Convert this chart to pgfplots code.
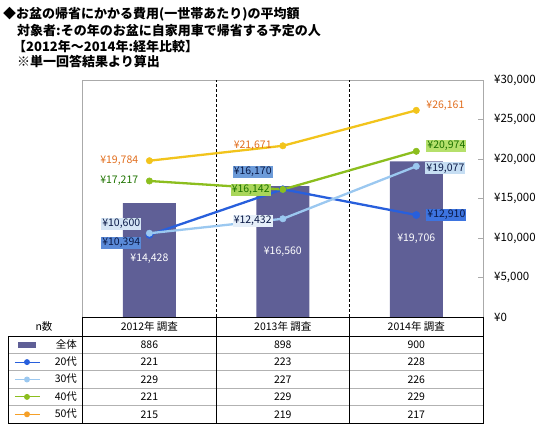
\documentclass[border=0pt]{standalone}
\usepackage{fontspec}
\setmainfont{Noto Sans CJK JP}
\usepackage{pgfplots}
\pgfplotsset{compat=1.18}

\definecolor{barc}{RGB}{95,95,150}
\definecolor{c20}{RGB}{40,95,220}
\definecolor{c30}{RGB}{155,200,240}
\definecolor{c40}{RGB}{140,190,30}
\definecolor{c50}{RGB}{242,196,28}
\definecolor{c50leg}{RGB}{245,160,40}
\definecolor{t50}{RGB}{225,110,30}
\definecolor{t40}{RGB}{30,115,0}
\definecolor{tblue}{RGB}{10,25,70}
\definecolor{framec}{RGB}{170,170,170}
\definecolor{bgA}{RGB}{213,229,245}
\definecolor{bgB}{RGB}{90,138,216}
\definecolor{bgC}{RGB}{108,155,217}
\definecolor{bgD}{RGB}{169,214,90}
\definecolor{bgE}{RGB}{230,239,249}
\definecolor{bgF}{RGB}{181,224,107}
\definecolor{bgG}{RGB}{198,222,243}
\definecolor{bgH}{RGB}{61,116,224}

\newcommand{\lab}{\fontsize{10.5}{12}\selectfont}
\newcommand{\tbl}{\fontsize{10.5}{12}\selectfont}
\newcommand{\legtxt}[1]{\makebox[34pt][r]{#1}}

\begin{document}
\begin{tikzpicture}
\path[use as bounding box] (0pt,0pt) rectangle (550pt,429pt);

% title
\begin{scope}[every node/.style={anchor=west, inner sep=0pt, font=\bfseries\fontsize{13}{15}\selectfont}]
\node at (3pt,415pt) {◆お盆の帰省にかかる費用(一世帯あたり)の平均額};
\node at (17pt,398pt) {対象者:その年のお盆に自家用車で帰省する予定の人};
\node at (13pt,382pt) {【2012年～2014年:経年比較】};
\node at (17pt,367pt) {※単一回答結果より算出};
\end{scope}

\begin{axis}[
  at={(82.7pt,112pt)}, anchor=south west,
  scale only axis, width=400.3pt, height=237pt,
  xmin=-0.5, xmax=2.5, ymin=0, ymax=30000,
  clip=false,
  axis line style={draw=framec},
  xtick=\empty,
  ytick={0,5000,...,30000},
  ytick pos=right, yticklabel pos=right,
  tick align=inside, major tick length=5pt,
  ytick style={draw=framec},
  scaled y ticks=false,
  yticklabel={¥\pgfmathprintnumber{\tick}},
  /pgf/number format/.cd, 1000 sep={,}, assume math mode=true,
  /pgfplots/.cd,
  yticklabel style={anchor=west, inner sep=0pt, xshift=11pt, font=\fontsize{11.5}{13}\selectfont},
  extra x ticks={0.5,1.5},
  extra x tick labels={},
  extra x tick style={grid=major, major tick length=0pt,
     major grid style={draw=black, line width=0.9pt, dash pattern=on 3pt off 2pt}},
  legend style={at={(-0.18661,-0.08017)}, anchor=north west, draw=none, fill=none,
     inner sep=0pt, outer sep=0pt, row sep=0pt, column sep=0pt,
     nodes={inner sep=0pt, outer sep=0pt, text height=12pt, text depth=5.4pt, font=\tbl}},
]
\addplot[ybar, bar width=53pt, fill=barc, draw=none,
  legend image code/.code={\path[draw=none,fill=none] (0pt,-4pt) rectangle (35pt,4pt);
     \fill[barc, draw=none] (10pt,-3pt) rectangle (28pt,3pt);}]
  coordinates {(0,14428) (1,16560) (2,19706)};
\addlegendentry{\legtxt{全体}}

\addplot[c20, line width=2.3pt, mark=*, mark size=3.6pt, mark options={fill=c20, draw=c20, line width=0.5pt},
  legend image code/.code={\path[draw=none,fill=none] (0pt,-4pt) rectangle (35pt,4pt);
     \draw[c20, line width=1pt, fill=none] (7pt,0pt) -- (32pt,0pt); \fill[c20, draw=none] (19pt,0pt) circle (3pt);}]
  coordinates {(0,10394) (1,16170) (2,12910)};
\addlegendentry{\legtxt{20代}}

\addplot[c30, line width=2.3pt, mark=*, mark size=3.2pt, mark options={fill=c30, draw=c30, line width=0.5pt},
  legend image code/.code={\path[draw=none,fill=none] (0pt,-4pt) rectangle (35pt,4pt);
     \draw[c30, line width=1pt, fill=none] (7pt,0pt) -- (32pt,0pt); \fill[c30, draw=none] (19pt,0pt) circle (3pt);}]
  coordinates {(0,10600) (1,12432) (2,19077)};
\addlegendentry{\legtxt{30代}}

\addplot[c40, line width=2.3pt, mark=*, mark size=3.2pt, mark options={fill=c40, draw=c40, line width=0.5pt},
  legend image code/.code={\path[draw=none,fill=none] (0pt,-4pt) rectangle (35pt,4pt);
     \draw[c40, line width=1pt, fill=none] (7pt,0pt) -- (32pt,0pt); \fill[c40, draw=none] (19pt,0pt) circle (3pt);}]
  coordinates {(0,17217) (1,16142) (2,20974)};
\addlegendentry{\legtxt{40代}}

\addplot[c50, line width=2.3pt, mark=*, mark size=3.2pt, mark options={fill=c50, draw=c50, line width=0.5pt},
  legend image code/.code={\path[draw=none,fill=none] (0pt,-4pt) rectangle (35pt,4pt);
     \draw[c50leg, line width=1pt, fill=none] (7pt,0pt) -- (32pt,0pt); \fill[c50leg, draw=none] (19pt,0pt) circle (3pt);}]
  coordinates {(0,19784) (1,21671) (2,26161)};
\addlegendentry{\legtxt{50代}}

% data labels
\begin{scope}[every node/.style={font=\lab, inner sep=1pt}]
% 2012
\node[anchor=east, xshift=-10pt, text=t50] at (axis cs:0,19784) {¥19,784};
\node[anchor=east, xshift=-10pt, text=t40] at (axis cs:0,17217) {¥17,217};
\node[anchor=east, xshift=-8pt, text=tblue, fill=bgA] at (axis cs:0,11772) {¥10,600};
\node[anchor=east, xshift=-8pt, text=tblue, fill=bgB] at (axis cs:0,9405) {¥10,394};
\node[text=white] at (axis cs:0,7342) {¥14,428};
% 2013
\node[anchor=east, xshift=-10pt, text=t50] at (axis cs:1,21671) {¥21,671};
\node[anchor=east, xshift=-10pt, text=tblue, fill=bgC] at (axis cs:1,18392) {¥16,170};
\node[anchor=east, xshift=-12pt, text=t40, fill=bgD] at (axis cs:1,16076) {¥16,142};
\node[anchor=east, xshift=-10pt, text=tblue, fill=bgE] at (axis cs:1,12190) {¥12,432};
\node[text=white] at (axis cs:1,8266) {¥16,560};
% 2014
\node[anchor=west, xshift=9pt, text=t50] at (axis cs:2,26709) {¥26,161};
\node[anchor=west, xshift=10pt, text=t40, fill=bgF] at (axis cs:2,21646) {¥20,974};
\node[anchor=west, xshift=9pt, text=tblue, fill=bgG] at (axis cs:2,18823) {¥19,077};
\node[anchor=west, xshift=10pt, text=tblue, fill=bgH] at (axis cs:2,12911) {¥12,910};
\node[text=white] at (axis cs:2,9873) {¥19,706};
\end{scope}
\end{axis}

% table
\draw[gray!60, line width=1.3pt] (8pt,75.6pt) -- (483pt,75.6pt);
\draw[gray!60, line width=1.3pt] (8pt,58.2pt) -- (483pt,58.2pt);
\draw[gray!60, line width=1.3pt] (8pt,40.8pt) -- (483pt,40.8pt);
\draw[gray!60, line width=1.3pt] (8pt,23.4pt) -- (483pt,23.4pt);
\draw[black, line width=0.8pt] (82.7pt,112pt) -- (483pt,112pt) -- (483pt,6pt) -- (8pt,6pt) -- (8pt,93pt) -- (483pt,93pt);
\draw[black, line width=0.8pt] (82.7pt,112pt) -- (82.7pt,6pt);
\draw[black, line width=0.8pt] (216pt,112pt) -- (216pt,6pt);
\draw[black, line width=0.8pt] (349.5pt,112pt) -- (349.5pt,6pt);

\begin{scope}[every node/.style={font=\tbl, inner sep=0pt}]
\node at (44pt,102.5pt) {n数};
\node at (149.4pt,102.5pt) {2012年 調査};
\node at (282.8pt,102.5pt) {2013年 調査};
\node at (416.3pt,102.5pt) {2014年 調査};
\node at (149.4pt,84.3pt) {886};
\node at (282.8pt,84.3pt) {898};
\node at (416.3pt,84.3pt) {900};
\node at (149.4pt,66.9pt) {221};
\node at (282.8pt,66.9pt) {223};
\node at (416.3pt,66.9pt) {228};
\node at (149.4pt,49.5pt) {229};
\node at (282.8pt,49.5pt) {227};
\node at (416.3pt,49.5pt) {226};
\node at (149.4pt,32.1pt) {221};
\node at (282.8pt,32.1pt) {229};
\node at (416.3pt,32.1pt) {229};
\node at (149.4pt,14.7pt) {215};
\node at (282.8pt,14.7pt) {219};
\node at (416.3pt,14.7pt) {217};
\end{scope}
\end{tikzpicture}
\end{document}
